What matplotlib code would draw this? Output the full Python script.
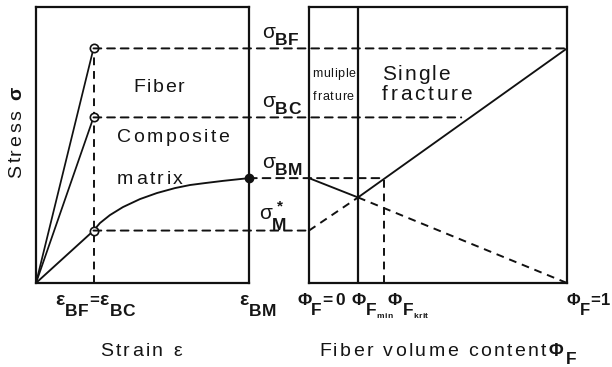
import numpy as np
import matplotlib
matplotlib.use("Agg")
import matplotlib.pyplot as plt
from matplotlib.patches import ConnectionPatch
from matplotlib.transforms import Affine2D, IdentityTransform, blended_transform_factory, offset_copy

plt.rcParams['font.family'] = ['Liberation Sans', 'DejaVu Sans']

# characteristic levels (axes run 0..1)
eps_BF = 0.27          # = eps_BC
eps_BM = 1.0
sig_BF = 0.85
sig_BC = 0.60
sig_BM = 0.38
sig_Mstar = 0.19
phi_min = 0.19
phi_krit = 0.29
sig_cross = 0.31
sig_BC_end = 0.59

# left panel: stress-strain curves
fiber_strain = [0.0, 0.27]
fiber_stress = [0.0, 0.85]
composite_strain = [0.0, 0.27]
composite_stress = [0.0, 0.60]
matrix_strain = [0.0, 0.268, 0.300, 0.347, 0.408, 0.488, 0.568, 0.653, 0.723, 0.793, 0.878, 1.0]
matrix_stress = [0.0, 0.188, 0.217, 0.246, 0.275, 0.304, 0.326, 0.344, 0.355, 0.362, 0.370, 0.380]

# right panel: strength vs fiber volume content
matrix_line_phi = [0.0, 0.19, 1.0]
matrix_line_sig = [0.38, 0.31, 0.0]
fiber_line_phi = [0.0, 0.19, 1.0]
fiber_line_sig = [0.19, 0.31, 0.85]

W, H = 612, 367
INK = '#111111'
TXT = '#151515'
DASH = (0, (4, 3))

fig = plt.figure(figsize=(W / 100, H / 100), dpi=100)


def px_box(x0, y0, x1, y1):
    return [x0 / W, 1 - y1 / H, (x1 - x0) / W, (y1 - y0) / H]


axL = fig.add_axes(px_box(36, 7, 249, 283))
axR = fig.add_axes(px_box(309, 7, 567, 283))
for ax in (axL, axR):
    ax.set_xlim(0, 1)
    ax.set_ylim(0, 1)
    ax.set_xticks([])
    ax.set_yticks([])
    for sp in ax.spines.values():
        sp.set_linewidth(1.6)
        sp.set_color(INK)

# ---- left panel
axL.plot(fiber_strain, fiber_stress, color=INK, lw=1.25)
axL.plot(composite_strain, composite_stress, color=INK, lw=1.25)
axL.plot(matrix_strain, matrix_stress, color=INK, lw=1.35)
axL.plot([eps_BF, eps_BF], [0, sig_BF], color=INK, lw=1.4, ls=DASH)
axL.plot([eps_BF] * 3, [sig_BF, sig_BC, sig_Mstar], 'o', ms=6, mfc='white',
         mec=INK, mew=1.2, zorder=5)
axL.plot([eps_BM], [sig_BM], 'o', ms=6, color=INK, clip_on=False, zorder=5)

# ---- right panel
axR.plot(matrix_line_phi[:2], matrix_line_sig[:2], color=INK, lw=1.35)
axR.plot(matrix_line_phi[1:], matrix_line_sig[1:], color=INK, lw=1.4, ls=DASH)
axR.plot(fiber_line_phi[:2], fiber_line_sig[:2], color=INK, lw=1.4, ls=DASH)
axR.plot(fiber_line_phi[1:], fiber_line_sig[1:], color=INK, lw=1.35)
axR.axvline(phi_min, color=INK, lw=1.6)
axR.plot([phi_krit, phi_krit], [0, sig_BM], color=INK, lw=1.4, ls=DASH)

# dashed levels running across both panels
links = [((eps_BF, sig_BF), (1.0, sig_BF)),
         ((eps_BF, sig_BC), (sig_BC_end, sig_BC)),
         ((eps_BM, sig_BM), (phi_krit, sig_BM)),
         ((eps_BF, sig_Mstar), (0.0, sig_Mstar))]
for a, b in links:
    fig.add_artist(ConnectionPatch(xyA=a, coordsA=axL.transData, xyB=b,
                                   coordsB=axR.transData, color=INK, lw=1.4,
                                   linestyle=DASH))

# ---- letter-spaced text helper
_rend = fig.canvas.get_renderer()
_adv = {}


def adv(ch, size, weight):
    key = (ch, size, weight)
    if key not in _adv:
        def w(s):
            t = fig.text(0, 0, s, fontsize=size, fontweight=weight)
            v = t.get_window_extent(_rend).width
            t.remove()
            return v
        _adv[key] = (w('l' + ch + 'l') - w('ll')) * 72 / fig.dpi
    return _adv[key]


def rich(x, y, parts, transform, track=0.0, dx=0.0, rot=0):
    """parts: (text, size, weight, baseline shift pt[, extra gap pt])"""
    c, s = np.cos(np.radians(rot)), np.sin(np.radians(rot))
    pen = dx
    for part in parts:
        text, size, weight, dy = part[:4]
        pen += part[4] if len(part) > 4 else 0
        for ch in text:
            if ch != ' ':
                tr = offset_copy(transform, fig=fig, x=pen * c - dy * s,
                                 y=pen * s + dy * c, units='points')
                fig.text(x, y, ch, transform=tr, fontsize=size, fontweight=weight,
                         color=TXT, ha='left', va='baseline', rotation=rot,
                         rotation_mode='anchor')
            pen += adv(ch, size, weight) + track


PX = Affine2D().scale(1, -1).translate(0, H)          # pixels from top-left
gap = blended_transform_factory(IdentityTransform(), axL.transData)
tickL = blended_transform_factory(axL.transData, PX)
tickR = blended_transform_factory(axR.transData, PX)

# in-panel words
rich(133, 92, [("Fiber", 14, 'normal', 0)], PX, track=1.2)
rich(117, 142, [("Composite", 14, 'normal', 0)], PX, track=1.7)
rich(117, 184, [("matrix", 14, 'normal', 0)], PX, track=1.8)
rich(382, 80, [("Single", 15, 'normal', 0)], PX, track=1.4)
rich(382, 100, [("fracture", 15, 'normal', 0)], PX, track=2.0)
rich(312, 77, [("muliple", 9, 'normal', 0)], PX, track=0.5)
rich(313, 100, [("frature", 9, 'normal', 0)], PX, track=0.5)

# axis titles
rich(100, 356, [("Strain ε", 14, 'normal', 0)], PX, track=1.7)
rich(319, 356, [("Fiber volume content", 14, 'normal', 0),
                ("Φ", 13, 'bold', 0), ("F", 12.5, 'bold', -6)], PX, track=1.7)
rich(21, 178, [("Stress ", 14, 'normal', 0), ("σ", 14, 'bold', 0)], PX,
     track=1.8, rot=90)

# stress level labels in the gap
for lev, sub in [(sig_BF, "BF"), (sig_BC, "BC"), (sig_BM, "BM")]:
    rich(262, lev, [("σ", 15, 'normal', 7.2), (sub, 12.5, 'bold', 2.6, -0.5)], gap, track=0.5)
rich(259, sig_Mstar, [("σ", 15, 'normal', 8.0), ("M", 12.5, 'bold', 0.6, -0.5)], gap, track=0.5)
rich(277, sig_Mstar, [("*", 11, 'bold', 14.5)], gap)

# strain tick labels
rich(eps_BF, 305, [("ε", 14, 'bold', 0), ("BF", 12.5, 'bold', -8), ("=", 12, 'bold', 0),
                   ("ε", 14, 'bold', 0), ("BC", 12.5, 'bold', -8)], tickL,
     track=0.4, dx=-27.5)
rich(eps_BM, 305, [("ε", 14, 'bold', 0), ("BM", 12.5, 'bold', -8)], tickL,
     track=0.3, dx=-7.0)

# fiber volume tick labels
rich(0.0, 305, [("Φ", 12.5, 'bold', 0), ("F", 12.5, 'bold', -7), ("=", 12.5, 'bold', 0),
                ("0", 12.5, 'bold', 0, 2.5)], tickR, track=0.0, dx=-8.6)
rich(phi_min, 305, [("Φ", 12.5, 'bold', 0), ("F", 12.5, 'bold', -7), ("min", 6, 'bold', -9)],
     tickR, track=0.2, dx=-5.0)
rich(phi_krit, 305, [("Φ", 12.5, 'bold', 0), ("F", 12.5, 'bold', -7), ("krit", 6, 'bold', -9)],
     tickR, track=0.2, dx=2.9)
rich(1.0, 305, [("Φ", 12, 'bold', 0), ("F", 12, 'bold', -7), ("=", 12, 'bold', 0),
                ("1", 12, 'bold', 0, 0.8)], tickR, track=0.0, dx=-0.5)

fig.savefig("out.png", dpi=100)
